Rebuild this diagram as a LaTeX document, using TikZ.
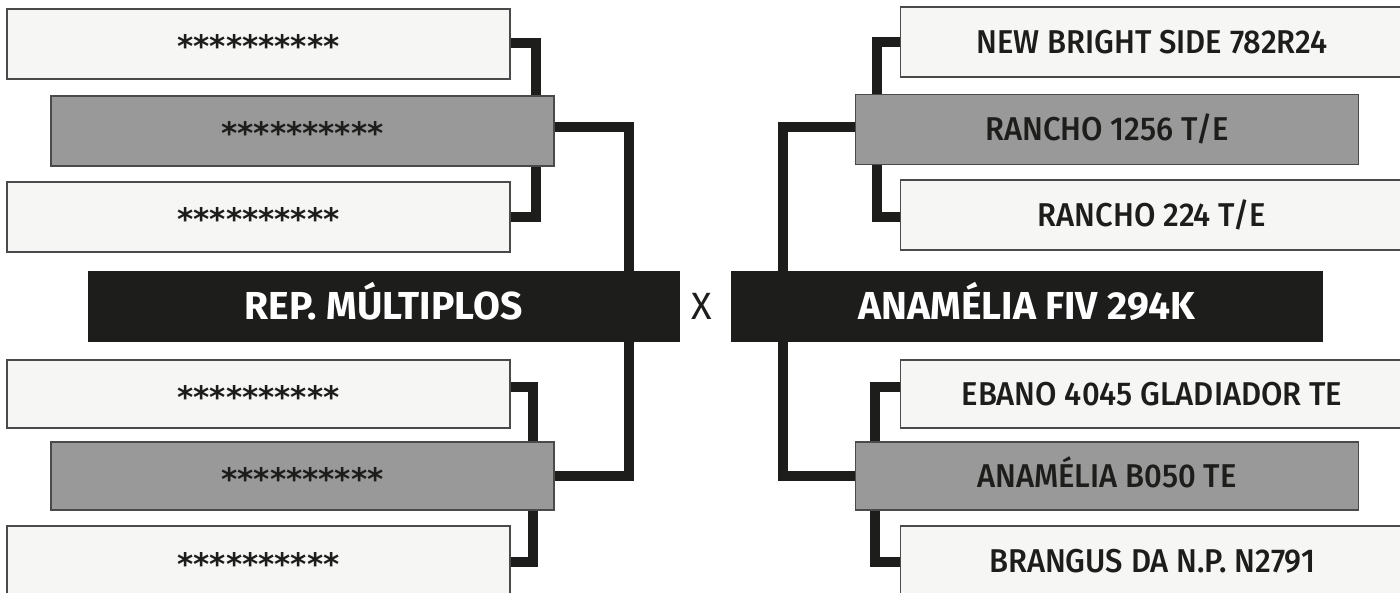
\documentclass[tikz,border=0pt]{standalone}
\usepackage{fontspec}
\setmainfont{Fira Sans}
\newfontfamily\medfont{Fira Sans}[UprightFont={* Medium}, FakeStretch=0.94]
\newfontfamily\astfont{DejaVu Sans}
\definecolor{ink}{HTML}{1D1D1B}
\definecolor{lightfill}{HTML}{F6F6F4}
\definecolor{midfill}{HTML}{999999}
\definecolor{boxline}{HTML}{4A4A4A}
\newcommand\starrow{{\astfont\bfseries **********}}
\begin{document}
\begin{tikzpicture}[x=1pt,y=-1pt,
  basebox/.style={draw=boxline, line width=1.5pt, minimum width=503pt, minimum height=70pt,
    inner sep=0pt, text=ink, font=\medfont\fontsize{33}{33}\selectfont, text height=22.5pt, text depth=0pt},
  lightbox/.style={basebox, fill=lightfill},
  midbox/.style={basebox, fill=midfill},
  starbox/.style={font=\fontsize{31}{31}\selectfont, text height=28pt},
  mainbox/.style={fill=ink, draw=none, minimum width=592pt, minimum height=71pt, inner sep=0pt,
    text=white, font=\fontsize{39}{39}\selectfont\bfseries, text height=27pt, text depth=0pt},
  conn/.style={draw=ink, line width=10pt}]
\useasboundingbox (0,0) rectangle (1400,593);
\clip (0,0) rectangle (1400,593);
\fill[white] (0,0) rectangle (1400,593);

% left side
\node[lightbox, starbox] (L1) at (258.5,44) {\starrow};
\node[midbox, starbox] (L2) at (302.5,131) {\starrow};
\node[lightbox, starbox] (L3) at (258.5,217) {\starrow};
\node[mainbox] (LM) at (383.5,306.5) {REP. MÚLTIPLOS};
\node[lightbox, starbox, minimum height=68pt] (L4) at (258.5,394) {\starrow};
\node[midbox, starbox, minimum height=68pt] (L5) at (302.5,476) {\starrow};
\node[lightbox, starbox] (L6) at (258.5,561) {\starrow};

% right side
\node[lightbox] (R1) at (1152,42) {NEW BRIGHT SIDE 782R24};
\node[midbox] (R2) at (1107,129.5) {RANCHO 1256 T/E};
\node[lightbox] (R3) at (1152,215) {RANCHO 224 T/E};
\node[mainbox] (RM) at (1027,306.5) {ANAMÉLIA FIV 294K};
\node[lightbox, minimum height=68pt] (R4) at (1152,394) {EBANO 4045 GLADIADOR TE};
\node[midbox, minimum height=68pt] (R5) at (1107,476) {ANAMÉLIA B050 TE};
\node[lightbox] (R6) at (1152,561) {BRANGUS DA N.P. N2791};

\node[text=ink, font=\fontsize{38}{38}\selectfont, text height=27pt, text depth=0pt, inner sep=0pt] (X) at (702,306.5) {X};

% connector columns
\coordinate (lc1) at (536,0);
\coordinate (lc2) at (629,0);
\coordinate (lc3) at (533,0);
\coordinate (rc1) at (877,0);
\coordinate (rc2) at (783,0);
\coordinate (rc3) at (875,0);

% left connectors
\draw[conn] ([yshift=1pt]L1.east) -| (L2.north -| lc1);
\draw[conn] (L3.east) -| (L2.south -| lc1);
\draw[conn] ([yshift=4pt]L2.east) -| (LM.north -| lc2);
\draw[conn] (L5.east) -| (LM.south -| lc2);
\draw[conn] ([yshift=7pt]L4.east) -| (L5.north -| lc3);
\draw[conn] ([yshift=-1pt]L6.east) -| (L5.south -| lc3);

% right connectors
\draw[conn] (R1.west) -| (R2.north -| rc1);
\draw[conn] ([yshift=-2pt]R3.west) -| (R2.south -| rc1);
\draw[conn] ([yshift=2.5pt]R2.west) -| (RM.north -| rc2);
\draw[conn] (R5.west) -| (RM.south -| rc2);
\draw[conn] ([yshift=7pt]R4.west) -| (R5.north -| rc3);
\draw[conn] ([yshift=-1pt]R6.west) -| (R5.south -| rc3);
\end{tikzpicture}
\end{document}
